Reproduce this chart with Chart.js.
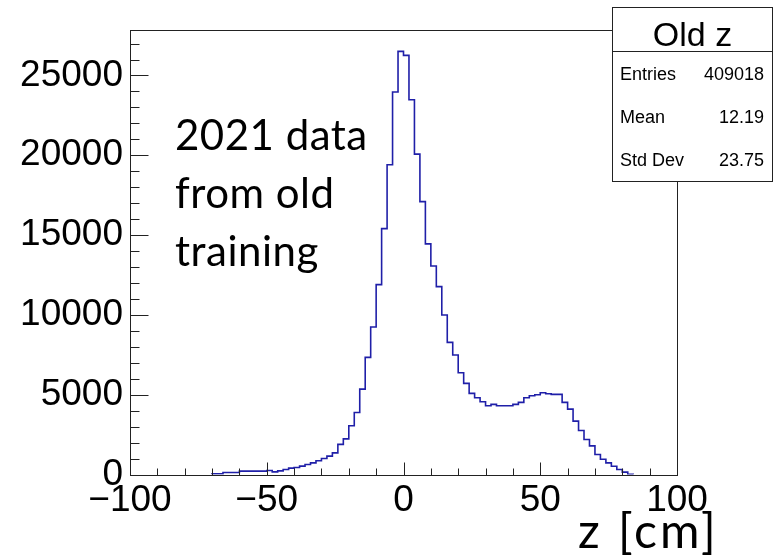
<!DOCTYPE html>
<html>
<head>
<meta charset="utf-8">
<script src="https://cdn.jsdelivr.net/npm/chart.js@4.4.0/dist/chart.umd.min.js"></script>
<style>
  html, body { margin: 0; padding: 0; background: #fff; }
  #wrap { width: 773px; height: 559px; position: relative; }
</style>
</head>
<body>
<div id="wrap"><canvas id="zChart" width="773" height="559"></canvas></div>
<script>
// histogram of z, 100 bins of 2 cm between -100 and 100
const zLow = -100
const zHigh = 100
const zBinWidth = 2
const zCounts = [
    0, 0, 0, 0, 0, 0, 0, 0, 0, 0,
    0, 0, 0, 0, 0, 40, 40, 125, 125, 125,
    210, 210, 210, 210, 210, 250, 167, 230, 314, 397,
    439, 522, 627, 731, 857, 1003, 1150, 1358, 1890, 2235,
    3050, 3889, 5351, 7339, 9240, 11894, 15407, 19404, 23964, 26512,
    26261, 23482, 20075, 17100, 14448, 13067, 11770, 9994, 8281, 7484,
    6374, 5709, 5081, 4806, 4555, 4304, 4392, 4304, 4304, 4304,
    4392, 4517, 4805, 4931, 4993, 5119, 5056, 5019, 5019, 4517,
    4096, 3344, 2760, 2196, 1794, 1254, 960, 728, 521, 314,
    146, 20, 0, 0, 0, 0, 0, 0, 0, 0,
]
const xTicks = [-100, -50, 0, 50, 100]
const yTicks = [0, 5000, 10000, 15000, 20000, 25000]
const yMax = 27850
const statsTitle = 'Old z'
const statsNames = ['Entries', 'Mean', 'Std Dev']
const statsValues = ['409018', '12.19', '23.75']
const noteLines = ['2021 data', 'from old', 'training']
const xTitle = 'z [cm]'

const lineColor = '#1f1fa8'
const tickFont = { family: 'Liberation Sans, Arial, sans-serif', size: 37 }

// outline points for a stepped line, skipping the empty bins at both ends
function histPoints() {
    let first = zCounts.findIndex(v => v > 0)
    let last = zCounts.length - 1
    while (last > 0 && zCounts[last] === 0) last--
    const pts = [{ x: zLow + first * zBinWidth, y: 0 }]
    for (let i = first; i <= last; i++) {
        pts.push({ x: zLow + i * zBinWidth, y: zCounts[i] })
    }
    pts.push({ x: zLow + (last + 1) * zBinWidth, y: 0 })
    return pts
}

const frameAndText = {
    id: 'frameAndText',
    beforeDraw(chart) {
        const ctx = chart.ctx
        ctx.save()
        ctx.fillStyle = '#fff'
        ctx.fillRect(0, 0, chart.width, chart.height)
        ctx.restore()
    },
    afterDraw(chart) {
        const ctx = chart.ctx
        const a = chart.chartArea
        const xs = chart.scales.x
        const ys = chart.scales.y
        ctx.save()
        ctx.strokeStyle = '#222'
        ctx.lineWidth = 1
        const L = Math.round(a.left) + 0.5
        const R = Math.round(a.right) + 0.5
        const T = Math.round(a.top) + 0.5
        const B = Math.round(a.bottom) + 0.5
        ctx.strokeRect(L, T, R - L, B - T)

        // ROOT style ticks drawn inside the frame
        ctx.beginPath()
        for (let v = zLow; v <= zHigh; v += 10) {
            const px = Math.round(xs.getPixelForValue(v)) + 0.5
            const len = v % 50 === 0 ? 13 : 7
            ctx.moveTo(px, B)
            ctx.lineTo(px, B - len)
        }
        for (let v = 0; v <= yMax; v += 1000) {
            const py = Math.round(ys.getPixelForValue(v)) + 0.5
            const len = v % 5000 === 0 ? 18 : 9
            ctx.moveTo(L, py)
            ctx.lineTo(L + len, py)
        }
        ctx.stroke()

        // note text
        ctx.fillStyle = '#000'
        ctx.font = '42px Lato, "Open Sans", sans-serif'
        ctx.textBaseline = 'alphabetic'
        ctx.textAlign = 'left'
        ctx.letterSpacing = '0.5px'
        noteLines.forEach((t, i) => ctx.fillText(t, 175, 150 + i * 58))

        // axis title
        ctx.font = '48px Lato, "Open Sans", sans-serif'
        ctx.letterSpacing = '3px'
        ctx.fillText(xTitle, 578, 548)
        ctx.letterSpacing = '0px'

        // stats box
        const bx = 612.5, by = 7.5, bw = 160, bh = 174
        ctx.fillStyle = '#fff'
        ctx.fillRect(bx, by, bw, bh)
        ctx.strokeStyle = '#222'
        ctx.strokeRect(bx, by, bw, bh)
        ctx.beginPath()
        ctx.moveTo(bx, 51.5)
        ctx.lineTo(bx + bw, 51.5)
        ctx.stroke()
        ctx.fillStyle = '#000'
        ctx.textAlign = 'center'
        ctx.font = '34px "Liberation Sans", Arial, sans-serif'
        ctx.fillText(statsTitle, bx + bw / 2, 46)
        ctx.font = '18px "Liberation Sans", Arial, sans-serif'
        ctx.textBaseline = 'middle'
        statsNames.forEach((n, i) => {
            const y = 75 + i * 43
            ctx.textAlign = 'left'
            ctx.fillText(n, 620, y)
            ctx.textAlign = 'right'
            ctx.fillText(statsValues[i], 764, y)
        })
        ctx.restore()
    },
}

new Chart(document.getElementById('zChart'), {
    type: 'line',
    data: {
        datasets: [
            {
                label: 'Old z',
                data: histPoints(),
                stepped: true,
                borderColor: lineColor,
                borderWidth: 1.6,
                pointRadius: 0,
                fill: false,
                tension: 0,
            },
        ],
    },
    options: {
        responsive: false,
        animation: false,
        devicePixelRatio: 1,
        layout: { padding: { top: 30, right: 96, left: 0, bottom: 0 } },
        plugins: { legend: { display: false }, tooltip: { enabled: false } },
        scales: {
            x: {
                type: 'linear',
                min: zLow,
                max: zHigh,
                afterBuildTicks(scale) {
                    scale.ticks = xTicks.map(v => ({ value: v }))
                },
                afterFit(scale) {
                    scale.height = 84.5
                },
                grid: { display: false, drawTicks: false },
                border: { display: false },
                ticks: {
                    font: tickFont,
                    color: '#000',
                    padding: 4,
                    maxRotation: 0,
                    autoSkip: false,
                    callback: v => String(v).replace('-', '\u2212'),
                },
            },
            y: {
                type: 'linear',
                min: 0,
                max: yMax,
                afterBuildTicks(scale) {
                    scale.ticks = yTicks.map(v => ({ value: v }))
                },
                afterFit(scale) {
                    scale.width = 130
                },
                grid: { display: false, drawTicks: false },
                border: { display: false },
                ticks: {
                    font: tickFont,
                    color: '#000',
                    padding: 7,
                    autoSkip: false,
                    callback: v => String(v),
                },
            },
        },
    },
    plugins: [frameAndText],
})
</script>
</body>
</html>
